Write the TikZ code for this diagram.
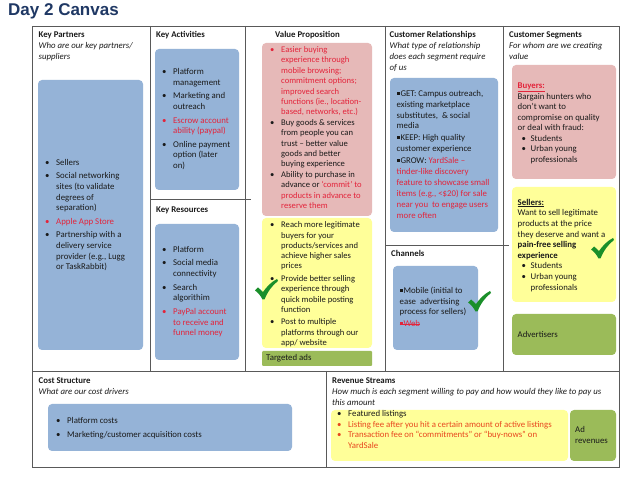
\documentclass[tikz,border=0pt]{standalone}
\usepackage{fontspec}
\setmainfont{Carlito}
\newfontfamily\titlefont{Liberation Sans}
\definecolor{cblue}{HTML}{95B3D7}
\definecolor{cpink}{HTML}{E6B9B8}
\definecolor{cyellow}{HTML}{FFFF99}
\definecolor{cgreenbox}{HTML}{9BBB59}
\definecolor{cred}{HTML}{E3243B}
\definecolor{corange}{HTML}{E8461E}
\definecolor{ctext}{HTML}{1A1A1A}
\definecolor{cgrid}{HTML}{595959}
\definecolor{ctitle}{HTML}{1F3864}
\definecolor{ccheck}{HTML}{1A8F2A}
\newcommand\bu{\makebox[11pt][l]{•}}
\newcommand\ind{\hspace*{11pt}}
\newcommand\sqb{\rule[1.6pt]{3pt}{3pt}\hspace{0.8pt}}
\newsavebox\stbox
\newcommand\strikeout[1]{\sbox\stbox{#1}\rlap{\rule[2.4pt]{\wd\stbox}{0.5pt}}\usebox\stbox}
\begin{document}
\begin{tikzpicture}[x=1pt,y=-1pt,
  grid/.style={draw=cgrid,line width=0.9pt},
  bx/.style={draw=none,inner sep=0,outer sep=0,anchor=north west,rounded corners=4pt},
  txt/.style={anchor=west,inner sep=0,align=left,font=\fontsize{8.8}{10.7}\selectfont,text=ctext},
  hdr/.style={anchor=north west,inner sep=0,align=left,font=\fontsize{8.8}{10.9}\selectfont,text=ctext},
  checkmark/.pic={\fill[ccheck] (0,11.5) -- (3,8.5) .. controls (5,10) and (6.5,11.5) .. (8,13) .. controls (11.5,8) and (16,3) .. (22,0) -- (23,2) .. controls (17,6.5) and (12.5,13) .. (9.5,20.5) -- (7.5,20.5) .. controls (5.5,16.5) and (3,13.5) .. (0,11.5) -- cycle;}]
\useasboundingbox (0,0) rectangle (638,478);
\fill[white] (0,0) rectangle (638,478);

% title
\node[anchor=base west,inner sep=0,font=\titlefont\bfseries\fontsize{17}{20}\selectfont,text=ctitle] (title) at (8,15.5) {Day 2 Canvas};

% grid
\draw[grid] (32,26) rectangle (619,467);
\draw[grid] (150,26) -- (150,371);
\draw[grid] (245,26) -- (245,371);
\draw[grid] (385,26) -- (385,371);
\draw[grid] (503,26) -- (503,371);
\draw[grid] (32,371) -- (619,371);
\draw[grid] (326,371) -- (326,467);
\draw[grid] (150,199) -- (251,199);
\draw[grid] (385,245) -- (509,245);

% headers
\node[hdr] (kph) at (38.5,29.8) {\strut\textbf{Key Partners}\\\textit{Who are our key partners/}\\\textit{suppliers}\strut};
\node[hdr] (kah) at (156,29.8) {\strut\textbf{Key Activities}};
\node[hdr] (krh) at (156,204.8) {\strut\textbf{Key Resources}};
\node[hdr] (vph) at (275,29.8) {\strut\textbf{Value Proposition}};
\node[hdr] (crh) at (389.5,29.8) {\strut\textbf{Customer Relationships}\\\textit{What type of relationship}\\\textit{does each segment require}\\\textit{of us}\strut};
\node[hdr] (chh) at (391,248.8) {\strut\textbf{Channels}};
\node[hdr] (csh) at (509,29.8) {\strut\textbf{Customer Segments}\\\textit{For whom are we creating}\\\textit{value}\strut};
\node[hdr] (cst) at (38.5,375.8) {\strut\textbf{Cost Structure}\\\textit{What are our cost drivers}\strut};
\node[hdr] (rsh) at (332,375.8) {\strut\textbf{Revenue Streams}\\\textit{How much is each segment willing to pay and how would they like to pay us}\\\textit{this amount}\strut};

% boxes
\node[bx,fill=cblue,minimum width=105pt,minimum height=270pt] (kpbox) at (38,80) {};
\node[bx,fill=cblue,minimum width=84pt,minimum height=141pt] (kabox) at (155,49) {};
\node[bx,fill=cblue,minimum width=84pt,minimum height=136pt] (krbox) at (155,224) {};
\node[bx,fill=cpink,minimum width=110pt,minimum height=173pt] (vpbox) at (262,43) {};
\node[bx,fill=cyellow,minimum width=110pt,minimum height=130pt] (vpybox) at (262,218) {};
\node[bx,fill=cgreenbox,minimum width=110pt,minimum height=15pt,rounded corners=1pt] (tabox) at (262,351) {};
\node[bx,fill=cblue,minimum width=108pt,minimum height=154pt] (crbox) at (390,78) {};
\node[bx,fill=cblue,minimum width=85pt,minimum height=84pt] (chbox) at (393,266) {};
\node[bx,fill=cpink,minimum width=104pt,minimum height=114pt] (buybox) at (512,65) {};
\node[bx,fill=cyellow,minimum width=104pt,minimum height=115pt] (selbox) at (512,187) {};
\node[bx,fill=cgreenbox,minimum width=104pt,minimum height=41pt] (advbox) at (512,314) {};
\node[bx,fill=cblue,minimum width=244pt,minimum height=47pt] (cbox) at (48,404) {};
\node[bx,fill=cyellow,minimum width=237pt,minimum height=51pt] (rbox) at (331,410) {};
\node[bx,fill=cgreenbox,minimum width=46pt,minimum height=51pt] (adbox) at (570,410) {};

% texts
\node[txt] (kptext) at (45,215.5) {\strut\bu Sellers\\[2.8pt]
\bu Social networking\\\ind sites (to validate\\\ind degrees of\\\ind separation)\\[2.8pt]
\textcolor{cred}{\bu Apple App Store}\\[2.8pt]
\bu Partnership with a\\\ind delivery service\\\ind provider (e.g., Lugg\\\ind or TaskRabbit)\strut};

\node[txt] (katext) at (162,119.5) {\strut\bu Platform\\\ind management\\[2.8pt]
\bu Marketing and\\\ind outreach\\[2.8pt]
\textcolor{cred}{\bu Escrow account}\\\textcolor{cred}{\ind ability (paypal)}\\[2.8pt]
\bu Online payment\\\ind option (later\\\ind on)\strut};

\node[txt] (krtext) at (162,292) {\strut\bu Platform\\[2.8pt]
\bu Social media\\\ind connectivity\\[2.8pt]
\bu Search\\\ind algorithim\\[2.8pt]
\textcolor{cred}{\bu PayPal account}\\\textcolor{cred}{\ind to receive and}\\\textcolor{cred}{\ind funnel money}\strut};

\node[txt,font=\fontsize{8.6}{10.4}\selectfont] (vptext) at (270,128.5) {\strut\textcolor{cred}{\bu Easier buying}\\
\textcolor{cred}{\ind experience through}\\\textcolor{cred}{\ind mobile browsing;}\\
\textcolor{cred}{\ind commitment options;}\\\textcolor{cred}{\ind improved search}\\
\textcolor{cred}{\ind functions (ie., location-}\\\textcolor{cred}{\ind based, networks, etc.)}\\
\bu Buy goods \& services\\\ind from people you can\\\ind trust – better value\\\ind goods and better\\\ind buying experience\\
\bu Ability to purchase in\\\ind advance or \textcolor{cred}{‘commit’ to}\\\textcolor{cred}{\ind products in advance to}\\\textcolor{cred}{\ind reserve them}\strut};

\node[txt,font=\fontsize{8.6}{10.3}\selectfont] (vpytext) at (270,284.5) {\strut\bu Reach more legitimate\\\ind buyers for your\\\ind products/services and\\\ind achieve higher sales\\\ind prices\\[2.2pt]
\bu Provide better selling\\\ind experience through\\\ind quick mobile posting\\\ind function\\[2.2pt]
\bu Post to multiple\\\ind platforms through our\\\ind app/ website\strut};

\node[txt] (tatext) at (266,358.5) {\strut Targeted ads\strut};

\node[txt,font=\fontsize{8.8}{10.9}\selectfont] (crtext) at (396.5,155) {\strut\sqb GET: Campus outreach,\\existing marketplace\\substitutes,~ \& social\\media\\[1pt]
\sqb KEEP: High quality\\customer experience\\[1pt]
\sqb GROW: \textcolor{cred}{YardSale –}\\\textcolor{cred}{tinder-like discovery}\\\textcolor{cred}{feature to showcase small}\\\textcolor{cred}{items (e.g., <\$20) for sale}\\\textcolor{cred}{near you~ to engage users}\\\textcolor{cred}{more often}\strut};

\node[txt] (chtext) at (399.5,308) {\strut\sqb Mobile (initial to\\ease~ advertising\\process for sellers)\\[1pt]
\textcolor{cred}{\strikeout{\sqb Web}}\strut};

\node[txt,font=\fontsize{8.8}{10.5}\selectfont] (buytext) at (517.5,123.5) {\strut\textcolor{cred}{\textbf{\underline{Buyers:}}}\\Bargain hunters who\\don’t want to\\compromise on quality\\or deal with fraud:\\
\hspace*{4pt}\makebox[9pt][l]{•}Students\\\hspace*{4pt}\makebox[9pt][l]{•}Urban young\\\hspace*{13pt}professionals\strut};

\node[txt,font=\fontsize{8.8}{10.6}\selectfont] (seltext) at (517.5,245.5) {\strut\textbf{\underline{Sellers:}}\\Want to sell legitimate\\products at the price\\they deserve and want a\\\textbf{pain-free selling}\\\textbf{experience}\\
\hspace*{4pt}\makebox[9pt][l]{•}Students\\\hspace*{4pt}\makebox[9pt][l]{•}Urban young\\\hspace*{13pt}professionals\strut};

\node[txt] (advtext) at (517.5,335) {\strut Advertisers\strut};

\node[txt] (ctext) at (56,428) {\strut\bu Platform costs\\[3.2pt]\bu Marketing/customer acquisition costs\strut};

\node[txt,font=\fontsize{8.8}{10.4}\selectfont] (rtext) at (337,430.5) {\strut\bu Featured listings\\
\textcolor{corange}{\bu Listing fee after you hit a certain amount of active listings}\\
\textcolor{corange}{\bu Transaction fee on “commitments” or “buy-nows” on}\\
\textcolor{corange}{\ind YardSale}\strut};

\node[txt] (adtext) at (575,436) {\strut Ad\\revenues\strut};

% check marks
\pic at (255,279) {checkmark};
\pic at (468,291) {checkmark};
\pic at (591,238) {checkmark};
\end{tikzpicture}
\end{document}
